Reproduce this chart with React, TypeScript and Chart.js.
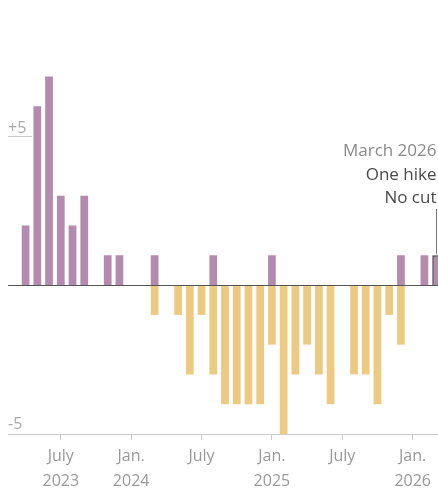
import React, { useEffect, useRef } from "react";
import { Chart, registerables } from "chart.js";

Chart.register(...registerables);

const months: string[] = [
  "Mar 2023", "Apr 2023", "May 2023", "Jun 2023", "Jul 2023", "Aug 2023", "Sep 2023", "Oct 2023", "Nov 2023", "Dec 2023",
  "Jan 2024", "Feb 2024", "Mar 2024", "Apr 2024", "May 2024", "Jun 2024", "Jul 2024", "Aug 2024", "Sep 2024", "Oct 2024", "Nov 2024", "Dec 2024",
  "Jan 2025", "Feb 2025", "Mar 2025", "Apr 2025", "May 2025", "Jun 2025", "Jul 2025", "Aug 2025", "Sep 2025", "Oct 2025", "Nov 2025", "Dec 2025",
  "Jan 2026", "Feb 2026", "Mar 2026",
];

const hikes: number[] = [
  0, 2, 6, 7, 3, 2, 3, 0, 1, 1,
  0, 0, 1, 0, 0, 0, 0, 1, 0, 0, 0, 0,
  1, 0, 0, 0, 0, 0, 0, 0, 0, 0, 0, 1,
  0, 1, 1,
];

const cuts: number[] = [
  0, 0, 0, 0, 0, 0, 0, 0, 0, 0,
  0, 0, -1, 0, -1, -3, -1, -3, -4, -4, -4, -4,
  -2, -5, -3, -2, -3, -4, 0, -3, -3, -4, -1, -2,
  0, 0, 0,
];

const tickMonths: string[] = ["Jul 2023", "Jan 2024", "Jul 2024", "Jan 2025", "Jul 2025", "Jan 2026"];
const tickTexts: string[][] = [["July", "2023"], ["Jan.", "2024"], ["July"], ["Jan.", "2025"], ["July"], ["Jan.", "2026"]];

const yLabelValues: number[] = [5, -5];
const yLabelTexts: string[] = ["+5", "-5"];

const highlightMonth = "Mar 2026";
const annotationLines: string[] = ["March 2026", "One hike", "No cut"];

const PURPLE = "#b48aae";
const YELLOW = "#ecca82";
const FONT = "'Open Sans', sans-serif";

export default function App() {
  const ref = useRef<HTMLCanvasElement | null>(null);

  useEffect(() => {
    document.documentElement.style.overflow = "hidden";
    document.body.style.margin = "8px 0 0 8px";
    const canvas = ref.current;
    if (!canvas) return;
    const hiIdx = months.indexOf(highlightMonth);

    const overlay = {
      id: "overlay",
      afterDatasetsDraw(chart: any) {
        const { ctx, chartArea, scales } = chart;
        const xs = scales.x;
        const ys = scales.y;
        ctx.save();
        // zero line
        const y0 = Math.round(ys.getPixelForValue(0)) + 0.5;
        ctx.strokeStyle = "#555";
        ctx.lineWidth = 1;
        ctx.beginPath();
        ctx.moveTo(chartArea.left, y0);
        ctx.lineTo(chartArea.right, y0);
        ctx.stroke();

        // y labels
        ctx.font = `16px ${FONT}`;
        ctx.fillStyle = "#aaa";
        ctx.textAlign = "left";
        ctx.textBaseline = "alphabetic";
        yLabelValues.forEach((v, i) => {
          const y = Math.round(ys.getPixelForValue(v)) + 0.5;
          if (v > 0) {
            ctx.strokeStyle = "#ccc";
            ctx.beginPath();
            ctx.moveTo(chartArea.left, y);
            ctx.lineTo(chartArea.left + 24, y);
            ctx.stroke();
            ctx.fillText(yLabelTexts[i], chartArea.left, y - 4);
          } else {
            ctx.fillText(yLabelTexts[i], chartArea.left, y - 6);
          }
        });

        // annotation
        const ax = Math.round(xs.getPixelForValue(hiIdx)) + 0.5;
        const barTop = ys.getPixelForValue(hikes[hiIdx]);
        ctx.textAlign = "right";
        ctx.font = `17px ${FONT}`;
        const baselines = [148, 172, 195];
        annotationLines.forEach((t, i) => {
          ctx.fillStyle = i === 0 ? "#8a8a8a" : "#4a4a4a";
          ctx.fillText(t, ax, baselines[i]);
        });
        ctx.strokeStyle = "#777";
        ctx.beginPath();
        ctx.moveTo(ax, baselines[2] + 6);
        ctx.lineTo(ax, barTop - 1);
        ctx.stroke();
        ctx.restore();
      },
    };

    const chart = new Chart(canvas, {
      type: "bar",
      data: {
        labels: months,
        datasets: [
          {
            label: "Hike",
            data: hikes,
            backgroundColor: PURPLE,
            borderColor: (c: any) => (c.dataIndex === hiIdx ? "#3a3a3a" : PURPLE),
            borderWidth: (c: any) => (c.dataIndex === hiIdx ? 1.5 : 0),
            barPercentage: 0.66,
            categoryPercentage: 1,
          },
          {
            label: "Cut",
            data: cuts,
            backgroundColor: YELLOW,
            borderWidth: 0,
            barPercentage: 0.66,
            categoryPercentage: 1,
          },
        ],
      },
      options: {
        responsive: false,
        animation: false,
        events: [],
        layout: { padding: 0 },
        plugins: { legend: { display: false }, tooltip: { enabled: false }, title: { display: false } },
        scales: {
          x: {
            stacked: true,
            afterFit: (scale: any) => {
              scale.height = 54;
            },
            grid: {
              offset: false,
              drawOnChartArea: false,
              drawTicks: true,
              tickLength: 6,
              color: (c: any) => {
                const lbl = months[c.index];
                return tickMonths.includes(lbl) ? "#ccc" : "rgba(0,0,0,0)";
              },
            },
            border: { display: true, color: "#ccc" },
            ticks: {
              autoSkip: false,
              maxRotation: 0,
              minRotation: 0,
              padding: 4,
              color: "#999",
              font: { family: FONT, size: 16, lineHeight: 1.55 },
              callback: (_v: any, idx: number) => {
                const k = tickMonths.indexOf(months[idx]);
                return k >= 0 ? tickTexts[k] : "";
              },
            },
          },
          y: {
            stacked: true,
            display: false,
            min: -5,
            max: 9.3,
          },
        },
      },
      plugins: [overlay],
    } as any);
    return () => chart.destroy();
  }, []);

  return (
    <div style={{ width: 430, height: 480, overflow: "hidden", position: "relative" }}>
      <canvas ref={ref} width={434} height={480} style={{ display: "block" }} />
    </div>
  );
}
